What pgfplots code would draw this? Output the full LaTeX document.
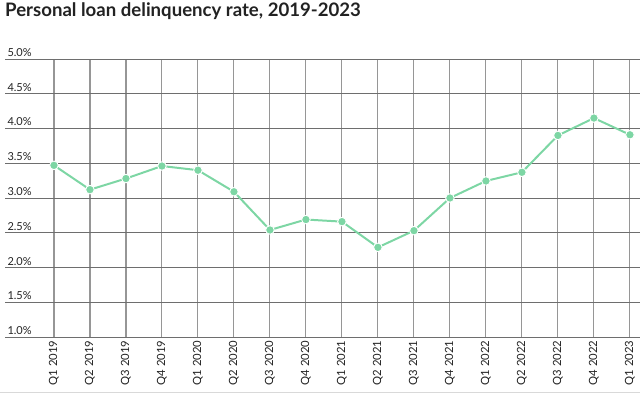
\documentclass[border=0pt]{standalone}
\usepackage{pgfplots}
\pgfplotsset{compat=1.18}
\usepackage{fontspec}
\setmainfont{Lato}
\definecolor{linegreen}{RGB}{125,214,164}
\definecolor{txt}{RGB}{34,34,34}
\definecolor{hgrid}{RGB}{110,110,110}
\definecolor{vgrid}{RGB}{150,150,150}
\begin{document}
\begin{tikzpicture}
\useasboundingbox (0,0) rectangle (640bp,394bp);
\node[anchor=base west, inner sep=0pt, font=\fontsize{18.6bp}{22bp}\selectfont\bfseries, text=txt] at (5bp,377bp) {Personal loan delinquency rate, 2019-2023};
\begin{axis}[
  at={(5bp,57bp)}, anchor=south west,
  scale only axis, width=635bp, height=278bp,
  xmin=-1.36, xmax=16.28, ymin=1, ymax=5,
  axis line style={draw=none},
  xtick={0,...,16},
  xticklabels={Q1 2019,Q2 2019,Q3 2019,Q4 2019,Q1 2020,Q2 2020,Q3 2020,Q4 2020,Q1 2021,Q2 2021,Q3 2021,Q4 2021,Q1 2022,Q2 2022,Q3 2022,Q4 2022,Q1 2023},
  ytick={1,1.5,...,5},
  major tick length=0pt,
  xmajorgrids, ymajorgrids,
  x grid style={vgrid, line width=1.1pt},
  y grid style={hgrid, line width=0.7pt},
  /pgf/number format/assume math mode=true,
  yticklabel={\pgfmathprintnumber[fixed,fixed zerofill,precision=1]{\tick}\%},
  yticklabel style={anchor=base west, xshift=-1bp, yshift=2.5bp, font=\fontsize{11bp}{13bp}\selectfont, text=txt},
  xticklabel style={rotate=90, anchor=east, font=\fontsize{11.3bp}{13bp}\selectfont, text=txt},
  clip=false,
]
\addplot[linegreen, line width=2pt, mark=*, mark options={fill=linegreen, draw=white, line width=0.9pt}, mark size=4.3pt]
coordinates {
(0,3.47) (1,3.12) (2,3.28) (3,3.46) (4,3.40) (5,3.09) (6,2.54) (7,2.69) (8,2.66)
(9,2.29) (10,2.53) (11,3.00) (12,3.245) (13,3.37) (14,3.90) (15,4.15) (16,3.91)
};
\end{axis}
\draw[gray!30, line width=0.8pt] (0,1.5bp) -- (640bp,1.5bp);
\end{tikzpicture}
\end{document}
